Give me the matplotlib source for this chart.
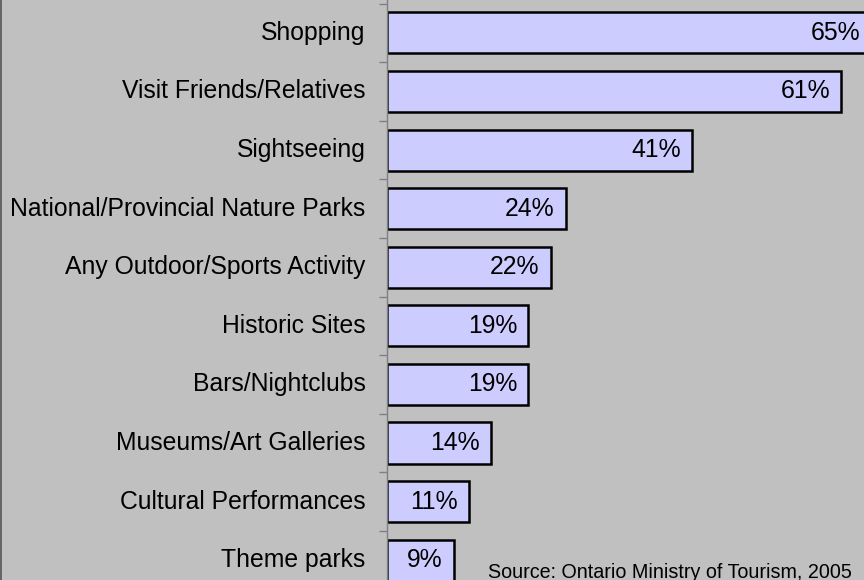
import matplotlib.pyplot as plt
from matplotlib.lines import Line2D

plt.rcParams['font.family'] = ['Liberation Sans', 'DejaVu Sans']

categories = ["Shopping", "Visit Friends/Relatives", "Sightseeing",
              "National/Provincial Nature Parks", "Any Outdoor/Sports Activity",
              "Historic Sites", "Bars/Nightclubs", "Museums/Art Galleries",
              "Cultural Performances", "Theme parks"]
values = [65, 61, 41, 24, 22, 19, 19, 14, 11, 9]
value_labels = ["65%", "61%", "41%", "24%", "22%", "19%", "19%", "14%", "11%", "9%"]
source = "Source: Ontario Ministry of Tourism, 2005"

W, H = 864, 580
fig = plt.figure(figsize=(W / 100, H / 100), dpi=100, facecolor="#C0C0C0")
ax_left = 386.7
ax = fig.add_axes([ax_left / W, 0, (W - ax_left) / W, 1])
ax.set_facecolor("#C0C0C0")

pos = list(range(len(categories)))
ax.barh(pos, values, height=0.70, color="#CCCCFF", edgecolor="black", linewidth=1.8)

# px per percent ~7.45, the top bar runs past the right edge
ax.set_xlim(0, (W - ax_left) / 7.45)
ax.set_ylim(9.338, -0.56)

for p, v, lab in zip(pos, values, value_labels):
    ax.annotate(lab, xy=(v, p), xytext=(-11, 0), textcoords="offset pixels",
                ha="right", va="center", fontsize=17.8, color="black",
                annotation_clip=False)

# category labels as text, ticks at category boundaries
ax.set_yticks([p + 0.5 for p in pos[:-1]] + [-0.5])
ax.set_yticklabels([])
ax.tick_params(axis="y", length=6, width=1, color="#808080", direction="out")
for p, c in zip(pos, categories):
    ax.annotate(c, xy=(0, p), xytext=(-21, 0), textcoords="offset pixels",
                ha="right", va="center", fontsize=17.8, color="black",
                annotation_clip=False)

ax.set_xticks([])
for s in ["top", "right", "bottom"]:
    ax.spines[s].set_visible(False)
ax.spines["left"].set_color("#808080")
ax.spines["left"].set_linewidth(1)

# left frame line
fig.add_artist(Line2D([1 / W, 1 / W], [0, 1], transform=fig.transFigure,
                      color="#555555", linewidth=1.2))

fig.text(488 / W, 2 / H, source, ha="left", va="baseline", fontsize=14.2, color="black")

fig.savefig("out.png", dpi=100, facecolor=fig.get_facecolor())
